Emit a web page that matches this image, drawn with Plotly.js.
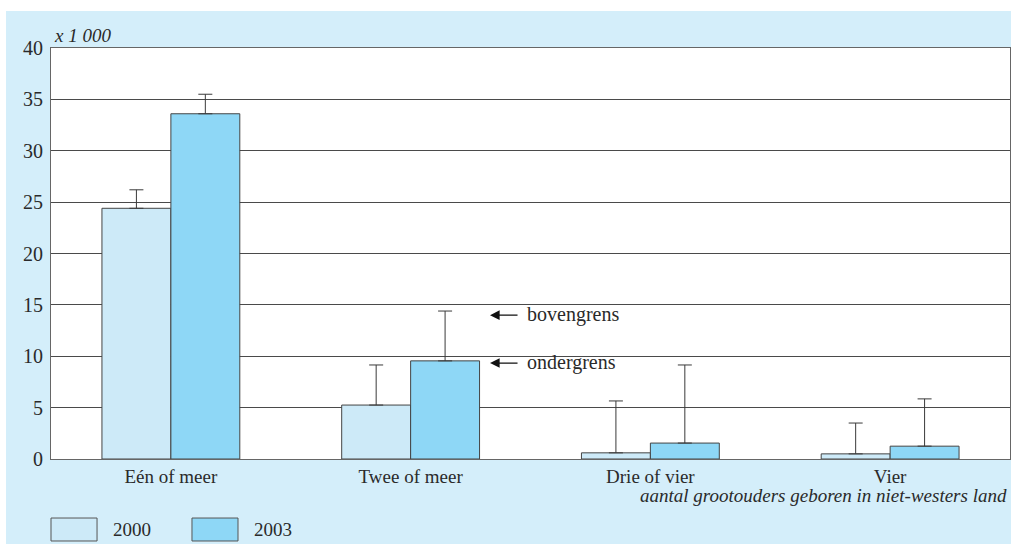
<!DOCTYPE html>
<html>
<head>
<meta charset="utf-8">
<script src="https://cdn.plot.ly/plotly-3.0.1.min.js"></script>
<style>
html,body{margin:0;padding:0;background:#ffffff;}
#chart{position:absolute;left:6px;top:11px;width:1005px;height:533px;}
</style>
</head>
<body>
<div id="chart"></div>
<script>
var categories = ['Eén of meer', 'Twee of meer', 'Drie of vier', 'Vier'];
var lower2000 = [24.4, 5.25, 0.6, 0.5];
var upper2000 = [26.2, 9.15, 5.65, 3.5];
var lower2003 = [33.6, 9.55, 1.55, 1.25];
var upper2003 = [35.5, 14.4, 9.15, 5.85];
var seriesNames = ['2000', '2003'];
var yTicks = [0, 5, 10, 15, 20, 25, 30, 35, 40];

var col2000 = '#cdeaf8';
var col2003 = '#8ed7f6';
var serif = 'Liberation Serif, Times New Roman, serif';
var txt = '#2a2a2a';

function diff(up, lo) { return up.map(function (u, i) { return +(u - lo[i]).toFixed(3); }); }
function zeros(a) { return a.map(function () { return 0; }); }

var errStyle = {type: 'data', symmetric: false, color: '#3a3a3a', thickness: 1, width: 7};

var traces = [
  {type: 'bar', name: seriesNames[0], x: categories, y: lower2000,
   marker: {color: col2000, line: {color: '#444444', width: 1}},
   error_y: Object.assign({array: diff(upper2000, lower2000), arrayminus: zeros(lower2000)}, errStyle),
   hoverinfo: 'x+y'},
  {type: 'bar', name: seriesNames[1], x: categories, y: lower2003,
   marker: {color: col2003, line: {color: '#444444', width: 1}},
   error_y: Object.assign({array: diff(upper2003, lower2003), arrayminus: zeros(lower2003)}, errStyle),
   hoverinfo: 'x+y'}
];

var layout = {
  width: 1005, height: 533,
  margin: {l: 45, r: 1, t: 37, b: 85},
  paper_bgcolor: '#d4eefa',
  plot_bgcolor: '#ffffff',
  showlegend: false,
  barmode: 'group',
  bargap: 0.425,
  bargroupgap: 0,
  font: {family: serif, size: 19, color: txt},
  xaxis: {
    type: 'category', range: [-0.5, 3.5],
    showgrid: false, ticks: '', showline: true, mirror: true,
    linecolor: '#666666', linewidth: 1,
    tickfont: {family: serif, size: 19, color: txt}
  },
  yaxis: {
    range: [0, 40], tickvals: yTicks, ticktext: yTicks.map(String),
    showgrid: true, gridcolor: '#4a4a4a', gridwidth: 1,
    zeroline: false, ticks: '', showline: true, mirror: true,
    linecolor: '#666666', linewidth: 1, ticklabelstandoff: 3,
    tickfont: {family: serif, size: 20, color: txt}
  },
  shapes: [
    {type: 'rect', xref: 'paper', yref: 'paper', x0: 0.0, x1: 0.048, y0: -0.1436, y1: -0.1995,
     fillcolor: col2000, line: {color: '#555555', width: 1}},
    {type: 'rect', xref: 'paper', yref: 'paper', x0: 0.147, x1: 0.195, y0: -0.1436, y1: -0.1995,
     fillcolor: col2003, line: {color: '#555555', width: 1}}
  ],
  annotations: [
    {xref: 'paper', yref: 'paper', x: 0.001, y: 1.0316, xanchor: 'left', yanchor: 'middle',
     text: '<i>x 1 000</i>', showarrow: false, font: {family: serif, size: 19, color: txt}},
    {xref: 'paper', yref: 'paper', x: 0.999, y: -0.09, xanchor: 'right', yanchor: 'middle',
     text: '<i>aantal grootouders geboren in niet-westers land</i>', showarrow: false,
     font: {family: serif, size: 19, color: txt}},
    {xref: 'paper', yref: 'paper', x: 0.0626, y: -0.1727, xanchor: 'left', yanchor: 'middle',
     text: seriesNames[0], showarrow: false, font: {family: serif, size: 19, color: txt}},
    {xref: 'paper', yref: 'paper', x: 0.2096, y: -0.1727, xanchor: 'left', yanchor: 'middle',
     text: seriesNames[1], showarrow: false, font: {family: serif, size: 19, color: txt}},
    {xref: 'paper', yref: 'y', x: 0.4578, y: 14.0, text: '', showarrow: true,
     ax: 29, ay: 0, arrowhead: 2, arrowsize: 1.6, arrowwidth: 1.2, arrowcolor: '#111111'},
    {xref: 'paper', yref: 'y', x: 0.4578, y: 9.34, text: '', showarrow: true,
     ax: 29, ay: 0, arrowhead: 2, arrowsize: 1.6, arrowwidth: 1.2, arrowcolor: '#111111'},
    {xref: 'paper', yref: 'y', x: 0.4943, y: 14.1, xanchor: 'left', yanchor: 'middle',
     text: 'bovengrens', showarrow: false, font: {family: serif, size: 20, color: txt}},
    {xref: 'paper', yref: 'y', x: 0.4943, y: 9.44, xanchor: 'left', yanchor: 'middle',
     text: 'ondergrens', showarrow: false, font: {family: serif, size: 20, color: txt}}
  ]
};

Plotly.newPlot('chart', traces, layout, {displayModeBar: false, responsive: false, staticPlot: true});
</script>
</body>
</html>
